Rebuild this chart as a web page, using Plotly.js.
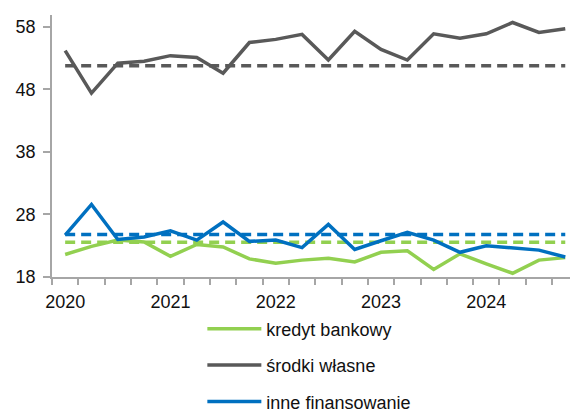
<!DOCTYPE html>
<html><head><meta charset="utf-8">
<script src="https://cdn.plot.ly/plotly-3.0.1.min.js"></script>
<style>html,body{margin:0;padding:0;background:#fff}#chart{width:570px;height:414px}</style>
</head><body><div id="chart"></div>
<script>
const quarters = ["2020Q1","2020Q2","2020Q3","2020Q4","2021Q1","2021Q2","2021Q3","2021Q4","2022Q1","2022Q2","2022Q3","2022Q4","2023Q1","2023Q2","2023Q3","2023Q4","2024Q1","2024Q2","2024Q3","2024Q4"];
const yearLabels = ["2020","2021","2022","2023","2024"];
const kredytBankowy = [21.6,22.9,23.9,23.6,21.3,23.2,22.8,20.9,20.2,20.7,21.0,20.4,21.95,22.2,19.2,21.7,20.1,18.6,20.7,21.1];
const srodkiWlasne = [54.2,47.4,52.2,52.5,53.4,53.1,50.6,55.5,56.0,56.8,52.7,57.3,54.4,52.7,56.9,56.2,56.9,58.7,57.1,57.7];
const inneFinansowanie = [24.7,29.6,24.0,24.4,25.4,23.9,26.8,23.7,23.9,22.7,26.4,22.4,23.8,25.15,23.9,21.95,23.0,22.7,22.3,21.2];
const avgKredyt = 23.55, avgSrodki = 51.8, avgInne = 24.8;
const names = ["kredyt bankowy","środki własne","inne finansowanie"];
const colors = ["#92D050","#595959","#0070C0"];

const xi = quarters.map((q,i)=>i);
const yearIdx = yearLabels.map(y=>quarters.indexOf(y+"Q1"));
const series = [kredytBankowy, srodkiWlasne, inneFinansowanie];
const avgs = [avgKredyt, avgSrodki, avgInne];
const traces = [];
avgs.forEach((a,k)=>{
  traces.push({x:xi, y:xi.map(()=>a), type:'scatter', mode:'lines',
    line:{color:colors[k], width:3.5, dash:'10px,6px'}, showlegend:false, hoverinfo:'skip'});
});
series.forEach((s,k)=>{
  traces.push({x:xi, y:s, type:'scatter', mode:'lines', name:names[k], legendgroup:'g'+k,
    line:{color:colors[k], width:3.5}});
});
const minorTicks = quarters.map((q,i)=>i-0.5).concat([quarters.length-0.5]);
const fnt = "'Liberation Sans',Arial,sans-serif";
Plotly.newPlot('chart', traces, {
  width:570, height:414,
  margin:{l:52, r:0, t:15, b:137, autoexpand:false},
  paper_bgcolor:'#fff', plot_bgcolor:'#fff',
  font:{family:fnt, size:18, color:'#111'},
  xaxis:{range:[-0.5,19.18], tickmode:'array', tickvals:yearIdx, ticktext:yearLabels, tickangle:0, ticks:'', showgrid:false, zeroline:false,
    showline:true, linecolor:'#a6a6a6', linewidth:1.5, ticklabelstandoff:8,
    minor:{tickmode:'array', tickvals:minorTicks, ticks:'outside', ticklen:6, tickcolor:'#a6a6a6', tickwidth:1.5, showgrid:false}},
  yaxis:{range:[18,59.9], tickmode:'array', tickvals:[18,28,38,48,58], ticks:'outside', ticklen:7, tickcolor:'#a6a6a6', tickwidth:1.5,
    showline:true, linecolor:'#a6a6a6', linewidth:1.5, showgrid:false, zeroline:false, ticklabelstandoff:4},
  showlegend:true,
  legend:{xref:'container', yref:'container', x:0.355, xanchor:'left', y:0.25, yanchor:'top', traceorder:'grouped', tracegroupgap:10,
    font:{family:fnt, size:18, color:'#111'}, bgcolor:'rgba(0,0,0,0)', itemwidth:54}
}, {displayModeBar:false});
</script></body></html>
